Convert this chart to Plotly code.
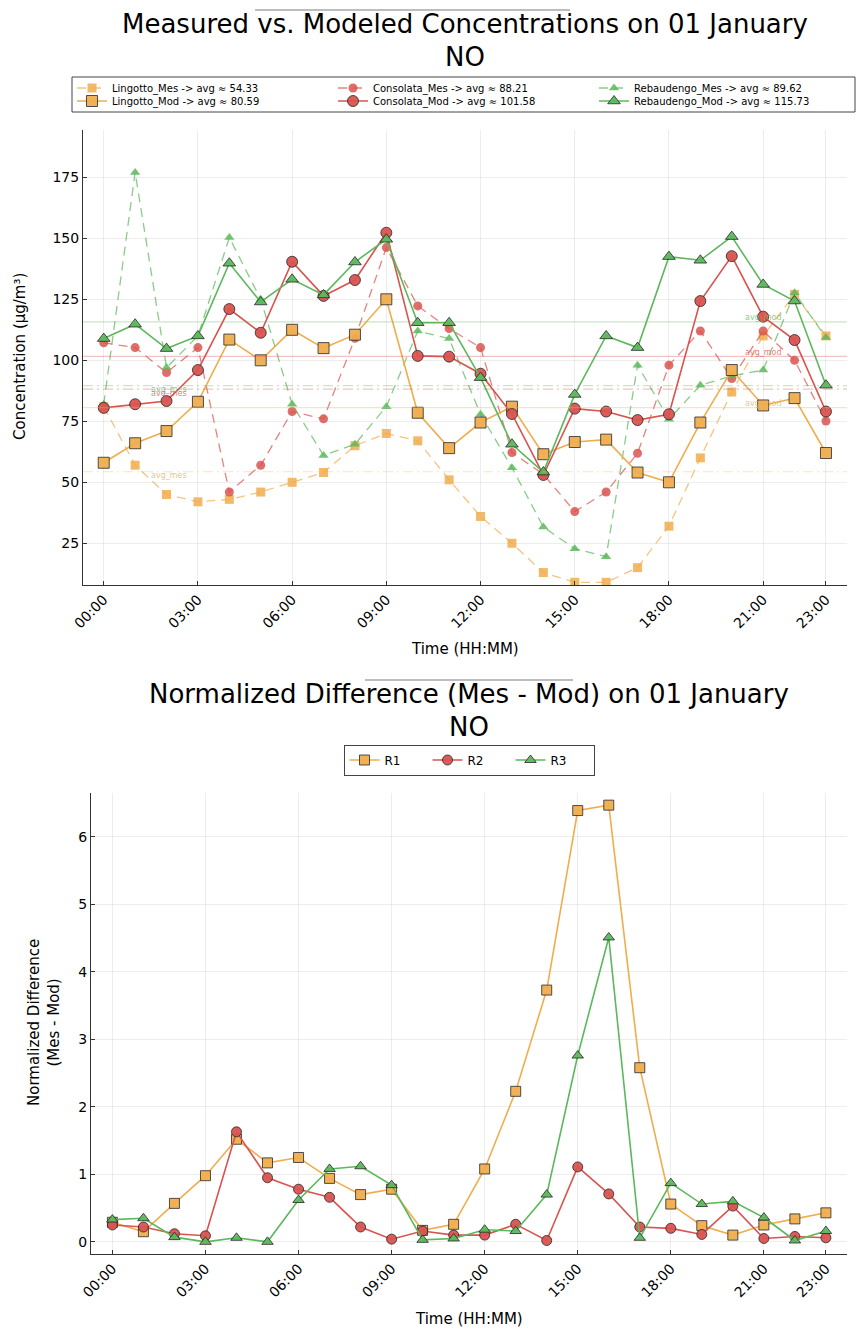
import plotly.graph_objects as go

# ---------------- data ----------------
times = ["00:00", "01:00", "02:00", "03:00", "04:00", "05:00", "06:00", "07:00",
         "08:00", "09:00", "10:00", "11:00", "12:00", "13:00", "14:00", "15:00",
         "16:00", "17:00", "18:00", "19:00", "20:00", "21:00", "22:00", "23:00"]
tick_labels = ["00:00", "03:00", "06:00", "09:00", "12:00", "15:00", "18:00", "21:00", "23:00"]

lingotto_mes = [81, 57, 45, 42, 43, 46, 50, 54, 65, 70, 67, 51,
                36, 25, 13, 9, 9, 15, 32, 60, 87, 110, 127, 110]
lingotto_mod = [58, 66, 71, 83, 108.5, 100, 112.5, 105, 110.5, 125, 78.5, 64,
                74.5, 81, 61.5, 66.5, 67.5, 54, 50, 74.5, 96, 81.5, 84.5, 62]
consolata_mes = [107.2, 105.2, 95, 105.2, 46, 57, 79, 76, 109, 146.2, 122.3, 113,
                 105.2, 62.2, 53.3, 38, 46, 61.9, 98, 112, 92.5, 112, 100, 75.1]
consolata_mod = [80.5, 82, 83.3, 96, 121, 111.3, 140.4, 126.4, 132.9, 152.3, 101.8, 101.5,
                 94.5, 78, 53, 80.2, 79, 75.5, 77.9, 124.3, 142.7, 117.9, 108.3, 79]
rebaudengo_mes = [82, 177, 97, 110, 150.3, 125, 82, 61, 65.6, 81, 112, 108.9,
                  77.9, 56, 31.7, 22.8, 19.5, 98, 75.8, 89.8, 93.6, 96, 127.7, 109.3]
rebaudengo_mod = [108.9, 114.8, 104.8, 110, 139.8, 123.9, 133.2, 126.8, 140.3, 149.6, 115.4, 115.4,
                  92.9, 65.6, 54.2, 86, 110, 105.2, 142.5, 141, 150.7, 131.1, 124.3, 89.8]

stations = ["Lingotto", "Consolata", "Rebaudengo"]
avg_mes = [54.33, 88.21, 89.62]
avg_mod = [80.59, 101.58, 115.73]

r1 = [0.29, 0.15, 0.57, 0.98, 1.52, 1.17, 1.25, 0.94, 0.70, 0.78, 0.17, 0.26,
      1.08, 2.23, 3.73, 6.39, 6.47, 2.58, 0.56, 0.24, 0.10, 0.25, 0.34, 0.43]
r2 = [0.25, 0.22, 0.12, 0.09, 1.63, 0.95, 0.78, 0.66, 0.22, 0.04, 0.16, 0.10,
      0.10, 0.26, 0.02, 1.11, 0.71, 0.22, 0.20, 0.11, 0.53, 0.05, 0.08, 0.06]
r3 = [0.33, 0.35, 0.07, 0.00, 0.06, 0.00, 0.62, 1.08, 1.12, 0.84, 0.03, 0.05,
      0.18, 0.16, 0.70, 2.76, 4.51, 0.06, 0.87, 0.56, 0.60, 0.36, 0.02, 0.16]
diff_names = ["R1", "R2", "R3"]

# ---------------- style ----------------
W, H = 856, 1331
FONT = "DejaVu Sans"
colors = ["#f0ad4e", "#d9534f", "#5cb85c"]
rgb = [(240, 173, 78), (217, 83, 79), (92, 184, 92)]
symbols = ["square", "circle", "triangle-up"]
mes_series = [lingotto_mes, consolata_mes, rebaudengo_mes]
mod_series = [lingotto_mod, consolata_mod, rebaudengo_mod]
diff_series = [r1, r2, r3]


def rgba(i, a):
    r, g, b = rgb[i]
    return f"rgba({r},{g},{b},{a})"


def px_x(p):
    return p / W


def px_y(p):
    return 1 - p / H


fig = go.Figure()

# top panel traces (measured row -> legend, modeled row -> legend3)
for i, st in enumerate(stations):
    fig.add_trace(go.Scatter(
        x=times, y=mes_series[i], mode="lines+markers",
        name=f"{st}_Mes -> avg ≈ {avg_mes[i]:.2f}",
        line=dict(color=rgba(i, 0.72), width=1.3, dash="9px,6px"),
        marker=dict(symbol=symbols[i], size=9, color=rgba(i, 0.85),
                    line=dict(width=0)),
        legend="legend", xaxis="x", yaxis="y"))
for i, st in enumerate(stations):
    fig.add_trace(go.Scatter(
        x=times, y=mod_series[i], mode="lines+markers",
        name=f"{st}_Mod -> avg ≈ {avg_mod[i]:.2f}",
        line=dict(color=colors[i], width=1.6),
        marker=dict(symbol=symbols[i], size=11, color=rgba(i, 0.95),
                    line=dict(width=1, color="rgba(40,40,40,0.8)")),
        legend="legend3", xaxis="x", yaxis="y"))

# bottom panel traces
for i, nm in enumerate(diff_names):
    fig.add_trace(go.Scatter(
        x=times, y=diff_series[i], mode="lines+markers", name=nm,
        line=dict(color=colors[i], width=1.6),
        marker=dict(symbol=symbols[i], size=10, color=rgba(i, 0.95),
                    line=dict(width=1, color="rgba(40,40,40,0.8)")),
        legend="legend2", xaxis="x2", yaxis="y2"))

shapes = []
annotations = []
# average lines + labels
for i in range(3):
    shapes.append(dict(type="line", xref="x domain", yref="y", x0=0, x1=1,
                       y0=avg_mod[i], y1=avg_mod[i],
                       line=dict(color=rgba(i, 0.35), width=1.2)))
    shapes.append(dict(type="line", xref="x domain", yref="y", x0=0, x1=1,
                       y0=avg_mes[i], y1=avg_mes[i],
                       line=dict(color=rgba(i, 0.35), width=1.2, dash="10px,4px,2px,4px")))
    annotations.append(dict(x="21:00", y=avg_mod[i], xref="x", yref="y", text="avg_mod",
                            showarrow=False, yshift=4,
                            font=dict(family=FONT, size=8, color=rgba(i, 0.75))))
    annotations.append(dict(x="02:00", y=avg_mes[i], xref="x", yref="y", text="avg_mes",
                            showarrow=False, yshift=-4, xshift=2,
                            font=dict(family=FONT, size=8, color=rgba(i, 0.75))))

# titles
TS = 26
annotations += [
    dict(x=px_x(465), y=px_y(24), xref="paper", yref="paper", showarrow=False,
         text="Measured vs. Modeled Concentrations on 01 January",
         font=dict(family=FONT, size=TS, color="black"), yanchor="middle"),
    dict(x=px_x(465), y=px_y(57), xref="paper", yref="paper", showarrow=False,
         text="NO", font=dict(family=FONT, size=TS, color="black"), yanchor="middle"),
    dict(x=px_x(469), y=px_y(694), xref="paper", yref="paper", showarrow=False,
         text="Normalized Difference (Mes - Mod) on 01 January",
         font=dict(family=FONT, size=TS, color="black"), yanchor="middle"),
    dict(x=px_x(469), y=px_y(727), xref="paper", yref="paper", showarrow=False,
         text="NO", font=dict(family=FONT, size=TS, color="black"), yanchor="middle"),
    dict(x=px_x(465), y=px_y(649), xref="paper", yref="paper", showarrow=False,
         text="Time (HH:MM)", font=dict(family=FONT, size=15, color="black"), yanchor="middle"),
    dict(x=px_x(469), y=px_y(1319), xref="paper", yref="paper", showarrow=False,
         text="Time (HH:MM)", font=dict(family=FONT, size=15, color="black"), yanchor="middle"),
    dict(x=px_x(20), y=px_y(357), xref="paper", yref="paper", showarrow=False,
         text="Concentration (µg/m³)", textangle=-90,
         font=dict(family=FONT, size=15, color="black"), xanchor="center", yanchor="middle"),
    dict(x=px_x(44), y=px_y(1023), xref="paper", yref="paper", showarrow=False,
         text="Normalized Difference<br>(Mes - Mod)", textangle=-90,
         font=dict(family=FONT, size=15, color="black"), xanchor="center", yanchor="middle"),
]

# thin overlines above titles, top legend frame
shapes += [
    dict(type="line", xref="paper", yref="paper", x0=px_x(255), x1=px_x(570),
         y0=px_y(10), y1=px_y(10), line=dict(color="rgba(90,90,90,0.8)", width=1)),
    dict(type="line", xref="paper", yref="paper", x0=px_x(365), x1=px_x(573),
         y0=px_y(680), y1=px_y(680), line=dict(color="rgba(90,90,90,0.8)", width=1)),
    dict(type="rect", xref="paper", yref="paper", x0=px_x(72), x1=px_x(855),
         y0=px_y(112), y1=px_y(77), line=dict(color="#444444", width=1)),
]

axis_common = dict(showline=True, linecolor="#333333", linewidth=1, mirror=False,
                   ticks="inside", ticklen=4, tickcolor="#333333",
                   showgrid=True, gridcolor="rgba(0,0,0,0.07)", gridwidth=1,
                   zeroline=False, tickfont=dict(family=FONT, size=14, color="black"))

top_legend = dict(orientation="h", xanchor="left", yanchor="middle",
                  borderwidth=0, bgcolor="rgba(0,0,0,0)",
                  entrywidth=216, entrywidthmode="pixels", traceorder="normal",
                  font=dict(family=FONT, size=10, color="black"))

fig.update_layout(
    width=W, height=H,
    margin=dict(l=0, r=0, t=0, b=0),
    template="none",
    paper_bgcolor="white", plot_bgcolor="white",
    font=dict(family=FONT, color="black"),
    showlegend=True,
    xaxis=dict(axis_common, domain=[px_x(83), px_x(847)], anchor="y", type="category",
               categoryorder="array", categoryarray=times, range=[-0.66, 23.67],
               tickmode="array", tickvals=tick_labels, ticktext=tick_labels, tickangle=-45),
    yaxis=dict(axis_common, domain=[px_y(585), px_y(130)], anchor="x", range=[7.9, 194.4],
               tickmode="array", tickvals=[25, 50, 75, 100, 125, 150, 175]),
    xaxis2=dict(axis_common, domain=[px_x(91), px_x(847)], anchor="y2", type="category",
                categoryorder="array", categoryarray=times, range=[-0.69, 23.68],
                tickmode="array", tickvals=tick_labels, ticktext=tick_labels, tickangle=-45),
    yaxis2=dict(axis_common, domain=[px_y(1254), px_y(793)], anchor="x2", range=[-0.18, 6.65],
                tickmode="array", tickvals=[0, 1, 2, 3, 4, 5, 6]),
    legend=dict(top_legend, x=px_x(72), y=px_y(88)),
    legend3=dict(top_legend, x=px_x(72), y=px_y(101)),
    legend2=dict(orientation="h", x=px_x(469), y=px_y(760), xanchor="center", yanchor="middle",
                 bordercolor="#444444", borderwidth=1, bgcolor="white",
                 entrywidth=38, entrywidthmode="pixels",
                 font=dict(family=FONT, size=12, color="black")),
    shapes=shapes,
    annotations=annotations,
)

fig.write_html("out.html")
